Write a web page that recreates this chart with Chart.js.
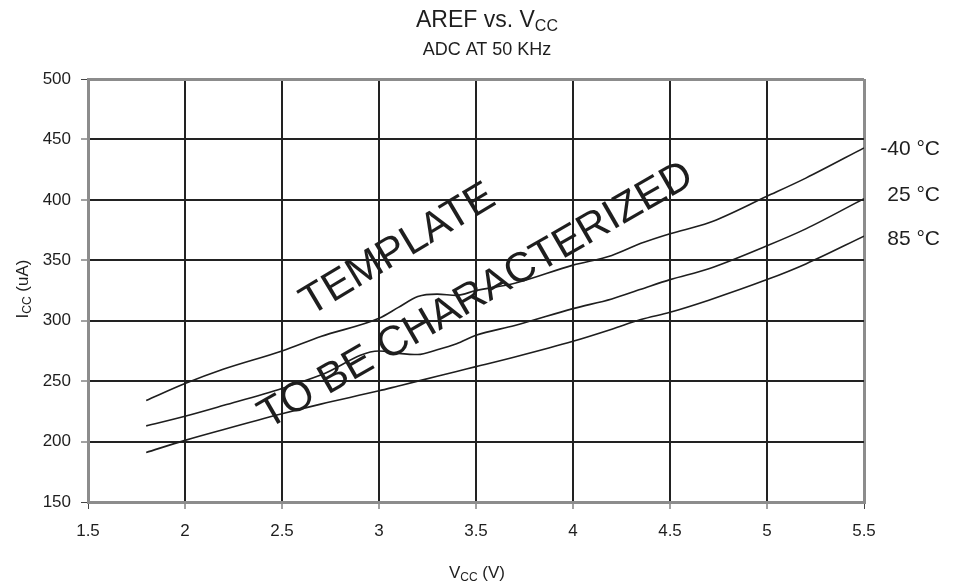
<!DOCTYPE html>
<html>
<head>
<meta charset="utf-8">
<script src="https://cdn.jsdelivr.net/npm/chart.js@4"></script>
<style>
  body { margin: 0; background: #fff; }
  #wrap { width: 955px; height: 585px; }
</style>
</head>
<body>
<div id="wrap"><canvas id="arefChart" width="955" height="585"></canvas></div>
<script>
// supply voltage points (V) and current per temperature (uA)
const vcc   = [1.8, 2.0, 2.2, 2.5, 2.7, 3.0, 3.1, 3.2, 3.3, 3.4, 3.5, 3.7, 4.0, 4.2, 4.35, 4.5, 4.7, 5.0, 5.2, 5.5];
const iM40  = [234, 248, 260, 275, 287, 302, 311, 320, 322, 321, 325, 331, 346, 354, 364, 372, 381, 403, 418, 443];
const i25   = [213, 221, 230, 244, 255, 275, 273, 272, 276, 281, 288, 296, 310, 318, 326, 334, 343, 362, 376, 401];
const i85   = [191, 201, 210, 223, 231, 242, 246, 250, 254, 258, 262, 270, 283, 293, 301, 307, 317, 334, 347, 370];
const tempLabels = ["-40 °C", "25 °C", "85 °C"];

const xRange = [1.5, 5.5];
const yRange = [150, 500];

const FONT = "'Liberation Sans', Arial, sans-serif";
const INK = "#1e1e1e";

function toPoints(ys) {
  return vcc.map((v, i) => ({ x: v, y: ys[i] }));
}

// draws a string made of normal / subscript pieces, centred on x
function drawParts(ctx, parts, x, y, size, subSize, drop) {
  let total = 0;
  parts.forEach(p => {
    ctx.font = (p[1] ? subSize : size) + "px " + FONT;
    total += ctx.measureText(p[0]).width;
  });
  let cx = x - total / 2;
  ctx.textAlign = "left";
  ctx.textBaseline = "alphabetic";
  parts.forEach(p => {
    ctx.font = (p[1] ? subSize : size) + "px " + FONT;
    ctx.fillText(p[0], cx, p[1] ? y + drop : y);
    cx += ctx.measureText(p[0]).width;
  });
}

const textPlugin = {
  id: "textPlugin",
  afterDraw(chart) {
    const ctx = chart.ctx;
    ctx.save();
    ctx.fillStyle = INK;

    // titles
    drawParts(ctx, [["AREF vs. V", false], ["CC", true]], 487, 27, 23, 16, 4);
    drawParts(ctx, [["ADC AT 50 KHz", false]], 487, 55, 18, 18, 0);

    // axis titles
    drawParts(ctx, [["V", false], ["CC", true], [" (V)", false]], 477, 578, 17, 12, 3);
    ctx.save();
    ctx.translate(28, 289);
    ctx.rotate(-Math.PI / 2);
    drawParts(ctx, [["I", false], ["CC", true], [" (uA)", false]], 0, 0, 17, 12, 3);
    ctx.restore();

    // temperature labels at the right end of each curve
    ctx.font = "21px " + FONT;
    ctx.textAlign = "right";
    ctx.textBaseline = "middle";
    [149, 195, 239].forEach((py, i) => ctx.fillText(tempLabels[i], 940, py));

    // watermark
    ctx.font = "42px " + FONT;
    ctx.textAlign = "center";
    ctx.textBaseline = "middle";
    ctx.save();
    ctx.translate(398, 250);
    ctx.rotate(-31 * Math.PI / 180);
    ctx.fillText("TEMPLATE", 0, 0);
    ctx.restore();
    ctx.save();
    ctx.translate(476, 296);
    ctx.rotate(-30 * Math.PI / 180);
    ctx.fillText("TO BE CHARACTERIZED", 0, 0);
    ctx.restore();

    ctx.restore();
  }
};

function edgeX(c) { return c.tick && (c.tick.value === xRange[0] || c.tick.value === xRange[1]); }
function edgeY(c) { return c.tick && (c.tick.value === yRange[0] || c.tick.value === yRange[1]); }

const lineStyle = {
  borderColor: INK,
  borderWidth: 1.6,
  pointRadius: 0,
  fill: false,
  cubicInterpolationMode: "monotone"
};

new Chart(document.getElementById("arefChart"), {
  type: "line",
  data: {
    datasets: [
      Object.assign({ label: tempLabels[0], data: toPoints(iM40) }, lineStyle),
      Object.assign({ label: tempLabels[1], data: toPoints(i25) }, lineStyle),
      Object.assign({ label: tempLabels[2], data: toPoints(i85) }, lineStyle)
    ]
  },
  options: {
    responsive: false,
    animation: false,
    layout: { padding: { top: 79, right: 91, left: 0, bottom: 0 } },
    plugins: {
      legend: { display: false },
      tooltip: { enabled: false }
    },
    scales: {
      x: {
        type: "linear",
        min: xRange[0],
        max: xRange[1],
        ticks: {
          stepSize: 0.5,
          color: INK,
          font: { size: 17, family: FONT },
          padding: 12,
          callback: v => String(v)
        },
        grid: {
          color: c => edgeX(c) ? "#8c8c8c" : "#222",
          lineWidth: c => edgeX(c) ? 3 : 2,
          tickLength: 7,
          tickColor: "#444",
          tickWidth: 1
        },
        border: { display: true, color: "#8c8c8c", width: 3 },
        afterFit(s) { s.height = 83; }
      },
      y: {
        min: yRange[0],
        max: yRange[1],
        ticks: { stepSize: 50, color: INK, font: { size: 17, family: FONT }, padding: 10 },
        grid: {
          color: c => edgeY(c) ? "#8c8c8c" : "#222",
          lineWidth: c => edgeY(c) ? 3 : 2,
          tickLength: 7,
          tickColor: "#444",
          tickWidth: 1
        },
        border: { display: true, color: "#8c8c8c", width: 3 },
        afterFit(s) { s.width = 88; }
      }
    }
  },
  plugins: [textPlugin]
});
</script>
</body>
</html>
